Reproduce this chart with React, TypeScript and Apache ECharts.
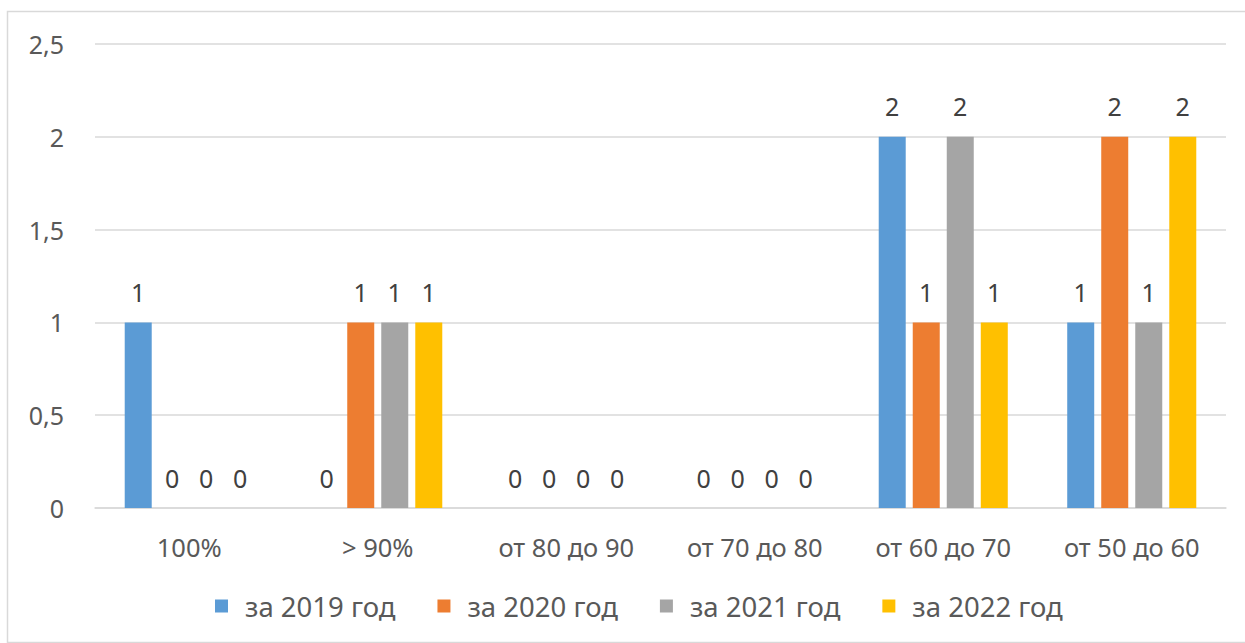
import React, { useEffect, useRef } from "react";
import * as echarts from "echarts";

const categories = ["100%", "> 90%", "от 80 до 90", "от 70 до 80", "от 60 до 70", "от 50 до 60"];
const seriesNames = ["за 2019 год", "за 2020 год", "за 2021 год", "за 2022 год"];
const values2019 = [1, 0, 0, 0, 2, 1];
const values2020 = [0, 1, 0, 0, 1, 2];
const values2021 = [0, 1, 0, 0, 2, 1];
const values2022 = [0, 1, 0, 0, 1, 2];
const colors = ["#5B9BD5", "#ED7D31", "#A5A5A5", "#FFC000"];

const FONT = "'Noto Sans', 'Open Sans', sans-serif";

export default function App() {
  const ref = useRef<HTMLDivElement>(null);
  useEffect(() => {
    if (!ref.current) return;
    const chart = echarts.init(ref.current, null, { renderer: "svg" });
    const all = [values2019, values2020, values2021, values2022];
    chart.setOption({
      animation: false,
      backgroundColor: "#ffffff",
      textStyle: { fontFamily: FONT },
      graphic: [
        {
          type: "rect",
          shape: { x: 7.5, y: 11.5, width: 1260, height: 631 },
          style: { fill: "none", stroke: "#D9D9D9", lineWidth: 1.5 },
          silent: true,
        },
      ],
      legend: {
        data: seriesNames,
        bottom: 18,
        left: 210,
        itemWidth: 13,
        itemHeight: 13,
        itemGap: 42,
        icon: "rect",
        textStyle: { fontFamily: FONT, fontSize: 27.5, color: "#595959", padding: [0, 0, 0, 12] },
      },
      grid: { left: 95, right: 19, top: 44, bottom: 135 },
      xAxis: {
        type: "category",
        data: categories,
        axisLine: { lineStyle: { color: "#D9D9D9", width: 1.5 } },
        axisTick: { show: false },
        axisLabel: { color: "#595959", fontSize: 25.5, fontFamily: FONT, margin: 26 },
      },
      yAxis: {
        type: "value",
        min: 0,
        max: 2.5,
        interval: 0.5,
        axisLine: { show: false },
        axisTick: { show: false },
        splitLine: { lineStyle: { color: "#D9D9D9", width: 1.5 } },
        axisLabel: {
          color: "#595959",
          fontSize: 25,
          fontFamily: FONT,
          margin: 31,
          formatter: (v: number) => String(v).replace(".", ","),
        },
      },
      series: seriesNames.map((name, i) => ({
        name,
        type: "bar",
        data: all[i],
        barWidth: 27,
        barGap: "26%",
        itemStyle: { color: colors[i] },
        label: {
          show: true,
          position: "top",
          distance: 18,
          color: "#404040",
          fontSize: 25,
          fontFamily: FONT,
        },
      })),
    });
    return () => chart.dispose();
  }, []);
  return (
    <div
      ref={ref}
      style={{ position: "fixed", left: 0, top: 0, width: 1245, height: 643 }}
    />
  );
}
